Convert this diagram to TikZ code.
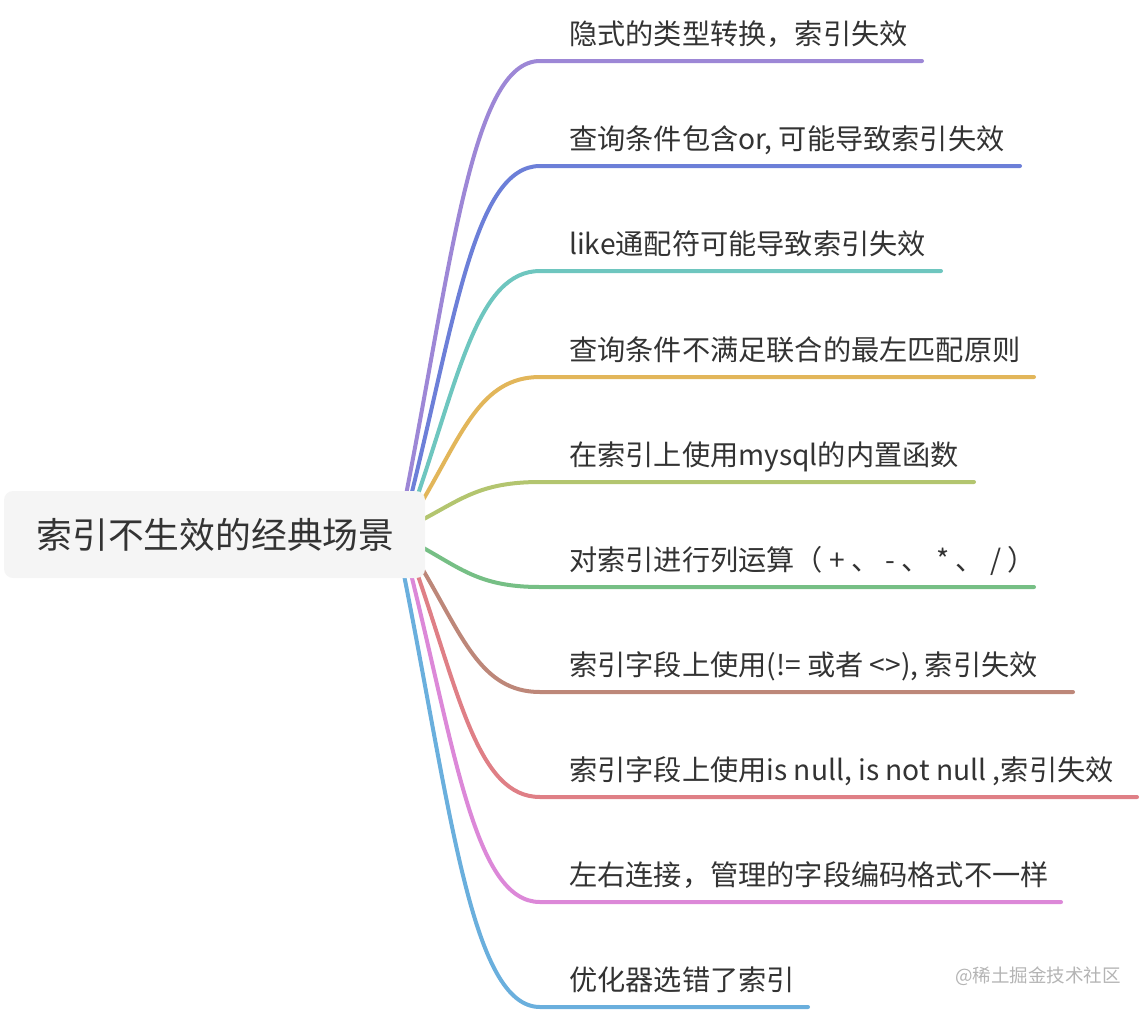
\documentclass[tikz,border=0pt]{standalone}
\usepackage{fontspec}
\setmainfont{Noto Sans CJK SC}
\newfontfamily\cjkfont{Noto Sans CJK SC}
\definecolor{cA}{HTML}{9D87D6}
\definecolor{cB}{HTML}{6C7FD8}
\definecolor{cC}{HTML}{6EC6BF}
\definecolor{cD}{HTML}{E2B65A}
\definecolor{cE}{HTML}{B3C56F}
\definecolor{cF}{HTML}{76BF85}
\definecolor{cG}{HTML}{BD8779}
\definecolor{cH}{HTML}{DF7F86}
\definecolor{cI}{HTML}{DC88D8}
\definecolor{cJ}{HTML}{6AAFDD}
\definecolor{txt}{HTML}{333333}
\definecolor{rootfill}{HTML}{F5F5F5}
\definecolor{wm}{HTML}{B4B4B4}
\tikzset{
  branch/.style={line width=4pt, line cap=round},
  leaf/.style={inner sep=0pt, text=txt, font=\cjkfont\fontsize{28.2}{32}\selectfont},
  rootbox/.style={rectangle, rounded corners=9pt, fill=rootfill, minimum width=421pt, minimum height=87pt, inner sep=0pt},
}
\newcommand\mmbranch[7]{%
  \coordinate (#1s) at (#3,#4);
  \coordinate (#1e) at (#6,#5);
  \node[leaf, anchor=base west] (#1) at (569,#5-17) {#7};
  \pgfmathsetmacro\cax{#3+0.35*(540-#3)}%
  \pgfmathsetmacro\cay{#4+0.55*(#5-#4)}%
  \pgfmathsetmacro\cbx{540-0.5*(540-#3)}%
  \draw[branch,#2] (#1s) .. controls (\cax,\cay) and (\cbx,#5) .. (540,#5) -- (#1e);
}
\begin{document}
\begin{tikzpicture}[x=1pt,y=-1pt]
\useasboundingbox (0,0) rectangle (1140,1012);
\mmbranch{b1}{cA}{405}{500}{61}{922}{隐式的类型转换，索引失效}
\mmbranch{b2}{cB}{410}{500}{166}{1020}{查询条件包含or, 可能导致索引失效}
\mmbranch{b3}{cC}{416}{500}{271}{941}{like通配符可能导致索引失效}
\mmbranch{b4}{cD}{420}{505}{377}{1034}{查询条件不满足联合的最左匹配原则}
\mmbranch{b5}{cE}{418}{522}{482}{974}{在索引上使用mysql的内置函数}
\mmbranch{b6}{cF}{418}{545}{587}{1034}{对索引进行列运算（ + 、 - 、 * 、 / ）}
\mmbranch{b7}{cG}{420}{565}{692}{1073}{索引字段上使用(!= 或者 <>), 索引失效}
\mmbranch{b8}{cH}{416}{570}{797}{1137}{索引字段上使用is null, is not null ,索引失效}
\mmbranch{b9}{cI}{410}{570}{902}{1061}{左右连接，管理的字段编码格式不一样}
\mmbranch{b10}{cJ}{403}{570}{1007}{808}{优化器选错了索引}
\node[rootbox] (root) at (214.5,534.5) {};
\node[inner sep=0pt, text=txt, font=\cjkfont\fontsize{35.8}{40}\selectfont, anchor=base] (roottext) at (215.5,548) {索引不生效的经典场景};
\node[inner sep=0pt, text=wm, font=\cjkfont\fontsize{18.5}{22}\selectfont, anchor=base west] (wmark) at (955,982) {@稀土掘金技术社区};
\end{tikzpicture}
\end{document}
